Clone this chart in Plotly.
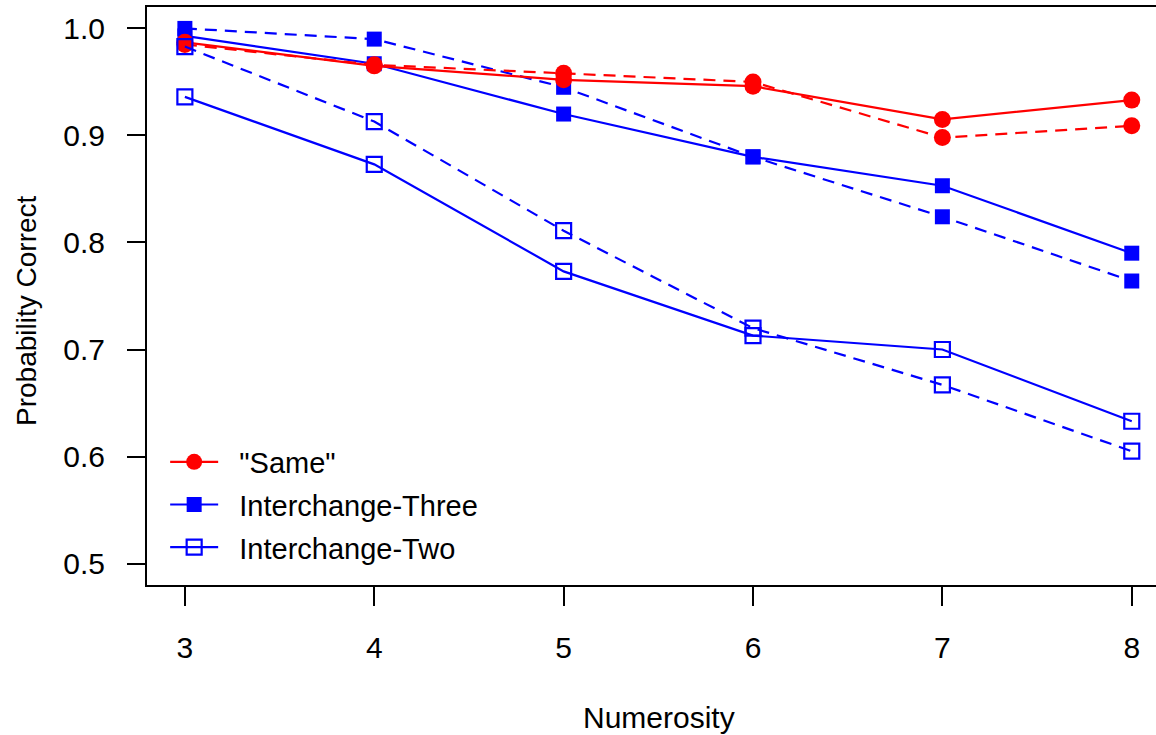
import plotly.graph_objects as go

numerosity = [3, 4, 5, 6, 7, 8]

same_solid = [0.987, 0.965, 0.952, 0.946, 0.915, 0.933]
same_dashed = [0.985, 0.966, 0.958, 0.950, 0.898, 0.909]
three_solid = [0.993, 0.967, 0.920, 0.880, 0.853, 0.790]
three_dashed = [1.000, 0.990, 0.945, 0.880, 0.824, 0.764]
two_solid = [0.936, 0.873, 0.773, 0.713, 0.700, 0.633]
two_dashed = [0.983, 0.913, 0.811, 0.720, 0.667, 0.605]

series_names = ['"Same"', "Interchange-Three", "Interchange-Two"]

y_ticks = [0.5, 0.6, 0.7, 0.8, 0.9, 1.0]
y_tick_labels = ["0.5", "0.6", "0.7", "0.8", "0.9", "1.0"]

RED = "#FF0000"
BLUE = "#0000FF"
FONT = "Liberation Sans, Arial, sans-serif"
LW = 2.2
DASH = "12px,8px"
FS = 29
TFS = 30
PAD = "\u00a0\u00a0"

fig = go.Figure()

def add(y, name, color, symbol, dash, show, rank, fill=None, size=15):
    marker = dict(symbol=symbol, size=size, color=color)
    if fill == "open":
        marker = dict(symbol="square-open", size=size, color=color, line=dict(width=2.2, color=color))
    fig.add_trace(go.Scatter(
        x=numerosity, y=y, mode="lines+markers", name=PAD + name,
        line=dict(color=color, width=LW, dash=dash),
        marker=marker, showlegend=show, legendgroup=name, legendrank=rank,
    ))

add(three_solid, series_names[1], BLUE, "square", "solid", True, 2)
add(three_dashed, series_names[1], BLUE, "square", DASH, False, 2)
add(same_solid, series_names[0], RED, "circle", "solid", True, 1, size=17)
add(same_dashed, series_names[0], RED, "circle", DASH, False, 1, size=17)
add(two_solid, series_names[2], BLUE, "square-open", "solid", True, 3, fill="open")
add(two_dashed, series_names[2], BLUE, "square-open", DASH, False, 3, fill="open")

W, H = 1156, 735
L, T = 147, 6.6
B = H - 585.4

fig.update_layout(
    width=W, height=H,
    margin=dict(l=L, r=0, t=T, b=B, pad=0),
    plot_bgcolor="white", paper_bgcolor="white",
    font=dict(family=FONT, size=FS, color="black"),
    showlegend=True,
    legend=dict(
        x=0.018, y=0.257, xanchor="left", yanchor="top",
        bgcolor="rgba(0,0,0,0)", borderwidth=0,
        font=dict(family=FONT, size=FS, color="black"),
        traceorder="grouped", tracegroupgap=2, itemwidth=48,
    ),
    xaxis=dict(
        range=[2.8, 8.128], tickvals=numerosity, ticktext=[str(v) for v in numerosity],
        showgrid=False, zeroline=False,
        showline=True, linecolor="black", linewidth=2, mirror=True,
        ticks="outside", ticklen=19, tickwidth=1.6, tickcolor="black",
        tickfont=dict(family=FONT, size=TFS, color="black"),
        ticklabelstandoff=16,
    ),
    yaxis=dict(
        range=[0.48, 1.02], tickvals=y_ticks, ticktext=y_tick_labels,
        showgrid=False, zeroline=False,
        showline=True, linecolor="black", linewidth=2, mirror=False,
        ticks="outside", ticklen=18, tickwidth=1.6, tickcolor="black",
        tickfont=dict(family=FONT, size=TFS, color="black"),
        ticklabelstandoff=16,
    ),
    annotations=[
        dict(text="Numerosity", xref="paper", yref="paper",
             x=(658.5 - L) / (W - L), y=-(718 - 585.4) / (585.4 - T),
             xanchor="center", yanchor="middle", showarrow=False,
             font=dict(family=FONT, size=30, color="black")),
        dict(text="Probability Correct", xref="paper", yref="paper",
             x=-(L - 27) / (W - L), y=(585.4 - 311) / (585.4 - T),
             xanchor="center", yanchor="middle", showarrow=False, textangle=-90,
             font=dict(family=FONT, size=28, color="black")),
    ],
)

fig.write_html("out.html", config={"displayModeBar": False},
               post_script="document.body.style.margin='0';")
